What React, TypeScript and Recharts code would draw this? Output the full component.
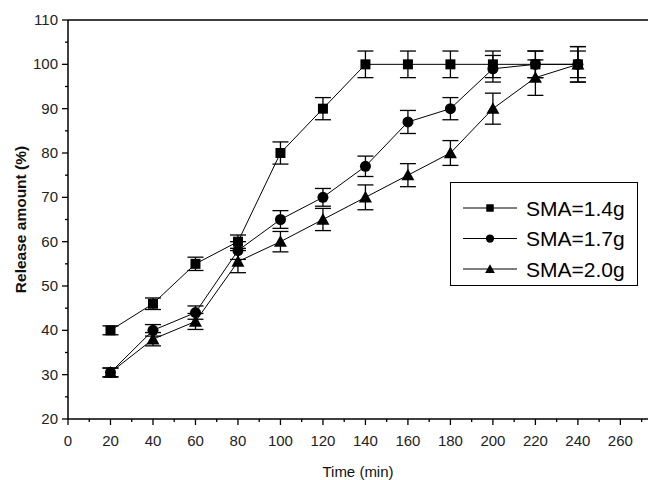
import React from 'react';
import {
  LineChart, Line, XAxis, YAxis, ErrorBar, ReferenceLine, Legend, Label
} from 'recharts';

const times = [20, 40, 60, 80, 100, 120, 140, 160, 180, 200, 220, 240];

const sma14 = [40, 46, 55, 60, 80, 90, 100, 100, 100, 100, 100, 100];
const sma14Err = [1, 1.3, 1.5, 1.5, 2.5, 2.5, 3, 3, 3, 3, 3, 4];

const sma17 = [30.5, 40, 44, 58, 65, 70, 77, 87, 90, 99, 100, 100];
const sma17Err = [1, 1.3, 1.5, 2, 2, 2, 2.3, 2.6, 2.5, 3, 3, 3];

const sma20 = [30.5, 38, 42, 55.5, 60, 65, 70, 75, 80, 90, 97, 100];
const sma20Err = [1, 1.5, 1.8, 2.5, 2.3, 2.5, 2.8, 2.6, 2.8, 3.5, 4, 4];

const seriesNames = ['SMA=1.4g', 'SMA=1.7g', 'SMA=2.0g'];

const xTicks = Array.from({ length: 28 }, (_, i) => i * 10);
const yTicks = Array.from({ length: 19 }, (_, i) => 20 + i * 5);

const data = times.map((t, i) => ({
  t,
  a: sma14[i], aErr: sma14Err[i],
  b: sma17[i], bErr: sma17Err[i],
  c: sma20[i], cErr: sma20Err[i],
}));

const FONT = 'Arial, "Liberation Sans", sans-serif';

const Marker = ({ kind, cx, cy, s = 1 }: any) => {
  if (cx == null || cy == null) return null;
  if (kind === 'square') {
    const h = 5 * s;
    return <rect x={cx - h} y={cy - h} width={2 * h} height={2 * h} fill="#000" />;
  }
  if (kind === 'circle') {
    return <circle cx={cx} cy={cy} r={5.5 * s} fill="#000" />;
  }
  const r = 6.5 * s;
  return (
    <polygon
      points={`${cx},${cy - r} ${cx - r},${cy + r * 0.8} ${cx + r},${cy + r * 0.8}`}
      fill="#000"
    />
  );
};

const dotFor = (kind: string) => (props: any) => (
  <Marker key={`${kind}-${props.index}`} kind={kind} cx={props.cx} cy={props.cy} />
);

const XTick = (props: any) => {
  const { x, y, payload } = props;
  const v = payload.value;
  const major = v % 20 === 0;
  return (
    <g>
      <line x1={x} y1={y} x2={x} y2={y + (major ? 6 : 3)} stroke="#000" strokeWidth={1.3} />
      {major && (
        <text x={x} y={y + 27} textAnchor="middle" fontSize={15} fill="#222" fontFamily={FONT}>
          {v}
        </text>
      )}
    </g>
  );
};

const YTick = (props: any) => {
  const { x, y, payload } = props;
  const v = payload.value;
  const major = v % 10 === 0;
  return (
    <g>
      <line x1={x} y1={y} x2={x - (major ? 6 : 3)} y2={y} stroke="#000" strokeWidth={1.3} />
      {major && (
        <text x={x - 10} y={y + 5} textAnchor="end" fontSize={15} fill="#222" fontFamily={FONT}>
          {v}
        </text>
      )}
    </g>
  );
};

const LegendBox = () => {
  const kinds = ['square', 'circle', 'triangle'];
  return (
    <div style={{ border: '1px solid #000', width: 188, height: 104, boxSizing: 'border-box', background: '#fff' }}>
      <svg width={186} height={102}>
        {kinds.map((k, i) => {
          const cy = 25 + i * 30.5;
          return (
            <g key={k}>
              <line x1={12} y1={cy} x2={66} y2={cy} stroke="#000" strokeWidth={1.2} />
              <Marker kind={k} cx={39} cy={cy} s={0.75} />
              <text x={75} y={cy + 7.5} fontSize={21} fill="#000" fontFamily={FONT}>
                {seriesNames[i]}
              </text>
            </g>
          );
        })}
      </svg>
    </div>
  );
};

export default function App() {
  return (
    <div style={{ position: 'absolute', left: 0, top: 0, width: 649, height: 480, background: '#fff' }}>
      <LineChart
        width={649}
        height={480}
        data={data}
        margin={{ top: 20, right: 1, left: 0, bottom: 0 }}
      >
        <XAxis
          dataKey="t"
          type="number"
          domain={[0, 273]}
          ticks={xTicks}
          interval={0}
          height={61}
          tickSize={0}
          tickMargin={0}
          tickLine={false}
          tick={<XTick />}
          axisLine={{ stroke: '#000', strokeWidth: 1.5 }}
        >
          <Label value="Time (min)" position="insideBottom" offset={3} fontSize={15} fill="#111" fontFamily={FONT} />
        </XAxis>
        <YAxis
          type="number"
          domain={[20, 110]}
          ticks={yTicks}
          interval={0}
          width={68}
          tickSize={0}
          tickMargin={0}
          tickLine={false}
          tick={<YTick />}
          axisLine={{ stroke: '#000', strokeWidth: 1.5 }}
        >
          <Label
            value="Release amount (%)"
            angle={-90}
            position="insideLeft"
            offset={20}
            style={{ textAnchor: 'middle', fontWeight: 'bold', fontSize: 15.5, fill: '#111', fontFamily: FONT }}
          />
        </YAxis>
        <ReferenceLine y={110} stroke="#000" strokeWidth={1.5} />
        <Legend
          verticalAlign="middle"
          layout="horizontal"
          content={<LegendBox />}
          wrapperStyle={{ left: 450, top: 182, width: 188, height: 104 }}
        />
        <Line dataKey="a" name={seriesNames[0]} stroke="#000" strokeWidth={1} dot={dotFor('square')} activeDot={false} isAnimationActive={false}>
          <ErrorBar dataKey="aErr" width={8} stroke="#000" strokeWidth={1.3} />
        </Line>
        <Line dataKey="b" name={seriesNames[1]} stroke="#000" strokeWidth={1} dot={dotFor('circle')} activeDot={false} isAnimationActive={false}>
          <ErrorBar dataKey="bErr" width={8} stroke="#000" strokeWidth={1.3} />
        </Line>
        <Line dataKey="c" name={seriesNames[2]} stroke="#000" strokeWidth={1} dot={dotFor('triangle')} activeDot={false} isAnimationActive={false}>
          <ErrorBar dataKey="cErr" width={8} stroke="#000" strokeWidth={1.3} />
        </Line>
      </LineChart>
    </div>
  );
}
